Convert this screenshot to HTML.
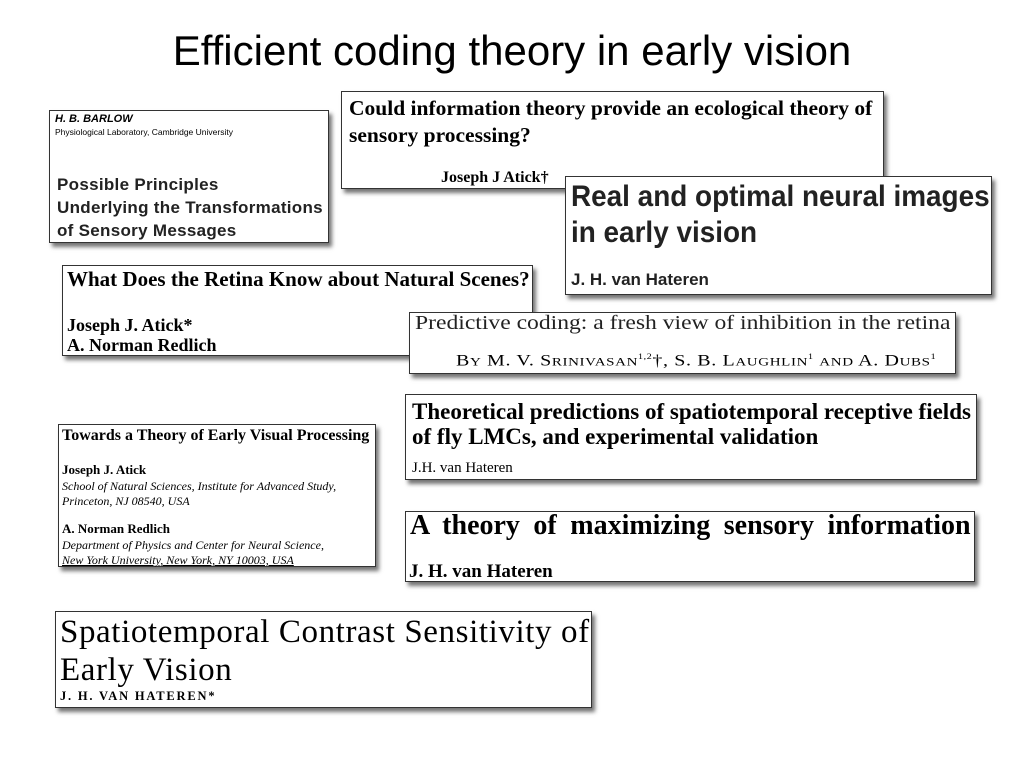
<!DOCTYPE html>
<html><head><meta charset="utf-8"><style>
body{margin:0;width:1024px;height:768px;background:#fff;position:relative;overflow:hidden;font-family:"Liberation Serif",serif;color:#000}
.b{position:absolute;background:#fff;border:1px solid #333;box-shadow:3px 4px 4px rgba(0,0,0,0.55);box-sizing:border-box}
.t{position:absolute;white-space:nowrap;line-height:1}
.s{font-family:"Liberation Sans",sans-serif}
h1{position:absolute;left:0;width:1024px;top:27px;margin:0;text-align:center;font:42px "Liberation Sans",sans-serif}
</style></head><body>
<h1>Efficient coding theory in early vision</h1>

<div class="b" style="left:49px;top:110px;width:280px;height:133px">
<div class="t s" style="left:5px;top:3px;font-size:11px;font-weight:bold;font-style:italic">H. B. BARLOW</div>
<div class="t s" style="left:5px;top:17px;font-size:8.5px">Physiological Laboratory, Cambridge University</div>
<div class="t s" style="left:7px;top:62px;font-size:17px;font-weight:bold;line-height:23px;letter-spacing:0.3px;color:#222">Possible Principles<br>Underlying the Transformations<br>of Sensory Messages</div>
</div>

<div class="b" style="left:341px;top:91px;width:543px;height:98px">
<div class="t" style="left:7px;top:3px;font-size:21.5px;font-weight:bold;line-height:27px">Could information theory provide an ecological theory of<br>sensory processing?</div>
<div class="t" style="left:99px;top:78px;font-size:16px;font-weight:bold">Joseph J Atick†</div>
</div>

<div class="b" style="left:565px;top:176px;width:427px;height:119px">
<div class="t s" style="left:5px;top:2px;font-size:30px;font-weight:bold;line-height:36px;color:#222;transform:scaleX(0.93);transform-origin:left">Real and optimal neural images<br>in early vision</div>
<div class="t s" style="left:5px;top:94px;font-size:17px;font-weight:bold;color:#222">J. H. van Hateren</div>
</div>

<div class="b" style="left:62px;top:265px;width:471px;height:91px">
<div class="t" style="left:4px;top:3px;font-size:21px;font-weight:bold">What Does the Retina Know about Natural Scenes?</div>
<div class="t" style="left:4px;top:49px;font-size:18px;font-weight:bold;line-height:20px">Joseph J. Atick*<br>A. Norman Redlich</div>
</div>

<div class="b" style="left:409px;top:312px;width:547px;height:62px">
<div class="t" style="left:5px;top:0px;font-size:20px;color:#222;transform:scaleX(1.18);transform-origin:left">Predictive coding: a fresh view of inhibition in the retina</div>
<div class="t" style="left:46px;top:40px;font-size:16px;letter-spacing:0.5px;transform:scaleX(1.25);transform-origin:left">B<span style="font-size:12px">Y</span> M. V. S<span style="font-size:12px">RINIVASAN</span><sup style="font-size:8px">1,2</sup>†, S. B. L<span style="font-size:12px">AUGHLIN</span><sup style="font-size:8px">1</sup> <span style="font-size:12px">AND</span> A. D<span style="font-size:12px">UBS</span><sup style="font-size:8px">1</sup></div>
</div>

<div class="b" style="left:405px;top:394px;width:572px;height:86px">
<div class="t" style="left:6px;top:4px;font-size:23px;font-weight:bold;line-height:25px">Theoretical predictions of spatiotemporal receptive fields<br>of fly LMCs, and experimental validation</div>
<div class="t" style="left:6px;top:66px;font-size:15px">J.H. van Hateren</div>
</div>

<div class="b" style="left:58px;top:424px;width:318px;height:143px">
<div class="t" style="left:3px;top:3px;font-size:16px;font-weight:bold">Towards a Theory of Early Visual Processing</div>
<div class="t" style="left:3px;top:38px;font-size:13px;font-weight:bold">Joseph J. Atick</div>
<div class="t" style="left:3px;top:54px;font-size:12px;font-style:italic;line-height:15px">School of Natural Sciences, Institute for Advanced Study,<br>Princeton, NJ 08540, USA</div>
<div class="t" style="left:3px;top:97px;font-size:13px;font-weight:bold">A. Norman Redlich</div>
<div class="t" style="left:3px;top:113px;font-size:12px;font-style:italic;line-height:15px">Department of Physics and Center for Neural Science,<br><u>New York University, New York, NY 10003, USA</u></div>
</div>

<div class="b" style="left:405px;top:511px;width:570px;height:71px">
<div class="t" style="left:4px;top:0px;font-size:28px;font-weight:bold;word-spacing:6.5px">A theory of maximizing sensory information</div>
<div class="t" style="left:3px;top:50px;font-size:19px;font-weight:bold">J. H. van Hateren</div>
</div>

<div class="b" style="left:55px;top:611px;width:537px;height:97px">
<div class="t" style="left:4px;top:1px;font-size:33px;line-height:38px;letter-spacing:0.6px">Spatiotemporal Contrast Sensitivity of<br>Early Vision</div>
<div class="t" style="left:4px;top:78px;font-size:12.5px;font-weight:bold;letter-spacing:1.8px">J. H. VAN HATEREN*</div>
</div>
</body></html>
